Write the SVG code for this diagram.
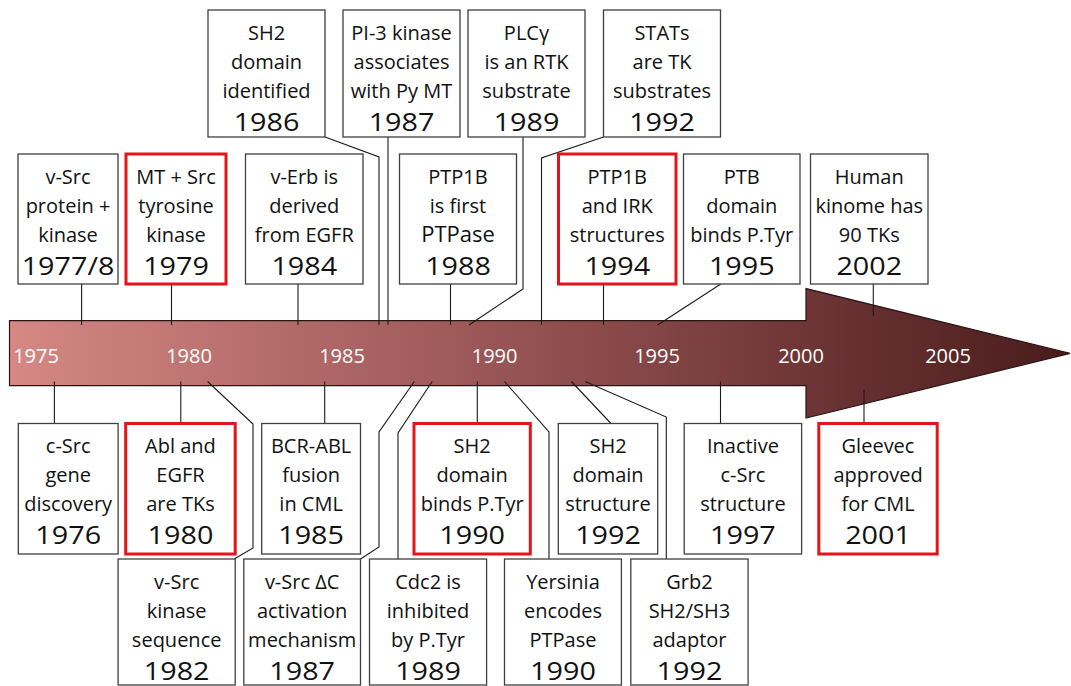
<svg xmlns="http://www.w3.org/2000/svg" width="1071" height="686" viewBox="0 0 1071 686">
<style>
.node rect{fill:#fff;stroke:#404040;stroke-width:1.3}
.node.red rect{stroke:#e3141b;stroke-width:3}
.node text{font-family:"Open Sans","Noto Sans",sans-serif;font-size:20px;fill:#111;text-anchor:middle}
.node text.yr{font-size:25px;transform:scaleX(1.15)}
.node text.big{font-size:22px}
.axis text{font-family:"Open Sans","Noto Sans",sans-serif;font-size:20px;fill:#fff;text-anchor:middle}
#connectors path{fill:none;stroke:#1a1a1a;stroke-width:1.1}
</style>
<defs>
<linearGradient id="ag" gradientUnits="userSpaceOnUse" x1="9" y1="0" x2="1070" y2="0">
<stop offset="0" stop-color="#d58884"/>
<stop offset="0.45" stop-color="#9a5656"/>
<stop offset="1" stop-color="#4a1b1b"/>
</linearGradient>
</defs>
<rect width="1071" height="686" fill="#fff"/>
<g id="timeline-arrow" class="axis">
<path d="M9.5 320.6 H806 V288.6 L1070 353.4 L806 418 V385.7 H9.5 Z" fill="url(#ag)" stroke="#2a1414" stroke-width="1.2"/>
<text x="36" y="363">1975</text>
<text x="189" y="363">1980</text>
<text x="342" y="363">1985</text>
<text x="494.6" y="363">1990</text>
<text x="657" y="363">1995</text>
<text x="801" y="363">2000</text>
<text x="948" y="363">2005</text>
</g>
<g id="connectors">
<path d="M81.6 284 V325"/>
<path d="M171.5 285 V325"/>
<path d="M298 284 V325"/>
<path d="M325 137 L379 157 V325"/>
<path d="M388 137 V325"/>
<path d="M450.5 284 V325"/>
<path d="M523 137 V289 L469 325"/>
<path d="M603.5 137 L541.5 158 V325"/>
<path d="M603.5 285 V325"/>
<path d="M720.8 284 L657.7 325"/>
<path d="M873.3 284 V316"/>
<path d="M54.4 381.5 V423.5"/>
<path d="M180.8 381.5 V422"/>
<path d="M207.6 381.5 L253 424 V548 L234.2 559"/>
<path d="M324.7 381.5 V423.5"/>
<path d="M414.3 381.5 L379 432 V547 L360.5 559"/>
<path d="M432.2 381.5 L398 433 V559"/>
<path d="M477.3 381.5 V422"/>
<path d="M504.5 381.5 L549 432 V559"/>
<path d="M571.4 381.5 L611 423.5"/>
<path d="M585.2 381.5 L666.3 417 V559"/>
<path d="M720.5 381.5 V423.5"/>
<path d="M864 390 V422"/>
</g>
<g id="n1986-sh2" class="node"><rect x="208" y="10" width="117" height="127"/><g transform="translate(266.5,0)"><text y="40">SH2</text><text y="69">domain</text><text y="98">identified</text><text class="yr" y="131">1986</text></g></g>
<g id="n1987-pi3k" class="node"><rect x="343" y="10" width="117" height="127"/><g transform="translate(401.5,0)"><text y="40">PI-3 kinase</text><text y="69">associates</text><text y="98">with Py MT</text><text class="yr" y="131">1987</text></g></g>
<g id="n1989-plcg" class="node"><rect x="468" y="10" width="117" height="127"/><g transform="translate(526.5,0)"><text y="40">PLCγ</text><text y="69">is an RTK</text><text y="98">substrate</text><text class="yr" y="131">1989</text></g></g>
<g id="n1992-stats" class="node"><rect x="603.5" y="10" width="117" height="127"/><g transform="translate(662,0)"><text y="40">STATs</text><text y="69">are TK</text><text y="98">substrates</text><text class="yr" y="131">1992</text></g></g>
<g id="n1977-vsrc" class="node"><rect x="18" y="154" width="100" height="130"/><g transform="translate(68,0)"><text y="184">v-Src</text><text y="213">protein +</text><text y="242">kinase</text><text class="yr" y="275">1977/8</text></g></g>
<g id="n1979-mt" class="node red"><rect x="126" y="154" width="100" height="130"/><g transform="translate(176,0)"><text y="184">MT + Src</text><text y="213">tyrosine</text><text y="242">kinase</text><text class="yr" y="275">1979</text></g></g>
<g id="n1984-verb" class="node"><rect x="245.5" y="154" width="117.5" height="130"/><g transform="translate(304.25,0)"><text y="184">v-Erb is</text><text y="213">derived</text><text y="242">from EGFR</text><text class="yr" y="275">1984</text></g></g>
<g id="n1988-ptp1b" class="node"><rect x="399.5" y="154" width="117" height="130"/><g transform="translate(458,0)"><text y="184">PTP1B</text><text y="213">is first</text><text class="big" y="242">PTPase</text><text class="yr" y="275">1988</text></g></g>
<g id="n1994-irk" class="node red"><rect x="558.5" y="154" width="117.5" height="130"/><g transform="translate(617.25,0)"><text y="184">PTP1B</text><text y="213">and IRK</text><text y="242">structures</text><text class="yr" y="275">1994</text></g></g>
<g id="n1995-ptb" class="node"><rect x="683.5" y="154" width="116.5" height="130"/><g transform="translate(741.75,0)"><text y="184">PTB</text><text y="213">domain</text><text y="242">binds P.Tyr</text><text class="yr" y="275">1995</text></g></g>
<g id="n2002-kinome" class="node"><rect x="810.5" y="154" width="117.5" height="130"/><g transform="translate(869.25,0)"><text y="184">Human</text><text y="213">kinome has</text><text y="242">90 TKs</text><text class="yr" y="275">2002</text></g></g>
<g id="n1976-csrc" class="node"><rect x="18.3" y="423.5" width="99.8" height="130.5"/><g transform="translate(68.2,0)"><text y="453">c-Src</text><text y="482">gene</text><text y="511">discovery</text><text class="yr" y="544">1976</text></g></g>
<g id="n1980-abl" class="node red"><rect x="125.7" y="423.5" width="109.5" height="130.5"/><g transform="translate(180.45,0)"><text y="453">Abl and</text><text y="482">EGFR</text><text y="511">are TKs</text><text class="yr" y="544">1980</text></g></g>
<g id="n1985-bcrabl" class="node"><rect x="261.7" y="423.5" width="98.8" height="130.5"/><g transform="translate(311.1,0)"><text y="453">BCR-ABL</text><text y="482">fusion</text><text y="511">in CML</text><text class="yr" y="544">1985</text></g></g>
<g id="n1990-sh2binds" class="node red"><rect x="414" y="423.5" width="116.3" height="130.5"/><g transform="translate(472.15,0)"><text y="453">SH2</text><text y="482">domain</text><text y="511">binds P.Tyr</text><text class="yr" y="544">1990</text></g></g>
<g id="n1992-sh2struct" class="node"><rect x="558.3" y="423.5" width="99.4" height="130.5"/><g transform="translate(608,0)"><text y="453">SH2</text><text y="482">domain</text><text y="511">structure</text><text class="yr" y="544">1992</text></g></g>
<g id="n1997-inactive" class="node"><rect x="684.2" y="423.5" width="117.4" height="130.5"/><g transform="translate(742.9,0)"><text y="453">Inactive</text><text y="482">c-Src</text><text y="511">structure</text><text class="yr" y="544">1997</text></g></g>
<g id="n2001-gleevec" class="node red"><rect x="818.8" y="423.5" width="118.4" height="130.5"/><g transform="translate(878,0)"><text y="453">Gleevec</text><text y="482">approved</text><text y="511">for CML</text><text class="yr" y="544">2001</text></g></g>
<g id="n1982-vsrcseq" class="node"><rect x="118.1" y="559" width="117.1" height="126"/><g transform="translate(176.65,0)"><text y="589">v-Src</text><text y="618">kinase</text><text y="647">sequence</text><text class="yr" y="680">1982</text></g></g>
<g id="n1987-vsrcdc" class="node"><rect x="243.8" y="559" width="116.7" height="126"/><g transform="translate(302.15,0)"><text y="589">v-Src ΔC</text><text y="618">activation</text><text y="647">mechanism</text><text class="yr" y="680">1987</text></g></g>
<g id="n1989-cdc2" class="node"><rect x="369.5" y="559" width="117.1" height="126"/><g transform="translate(428.05,0)"><text y="589">Cdc2 is</text><text y="618">inhibited</text><text y="647">by P.Tyr</text><text class="yr" y="680">1989</text></g></g>
<g id="n1990-yersinia" class="node"><rect x="504.5" y="559" width="116.9" height="126"/><g transform="translate(562.95,0)"><text y="589">Yersinia</text><text y="618">encodes</text><text y="647">PTPase</text><text class="yr" y="680">1990</text></g></g>
<g id="n1992-grb2" class="node"><rect x="630.8" y="559" width="117.3" height="126"/><g transform="translate(689.45,0)"><text y="589">Grb2</text><text y="618">SH2/SH3</text><text y="647">adaptor</text><text class="yr" y="680">1992</text></g></g>
</svg>
